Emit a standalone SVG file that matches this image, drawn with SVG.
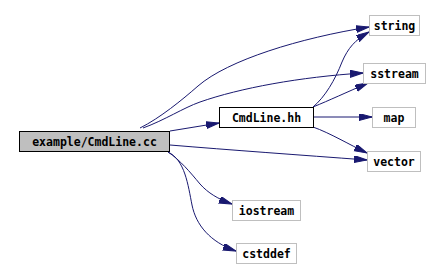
<svg xmlns="http://www.w3.org/2000/svg" width="441" height="268" viewBox="0 0 441 268">
<style>
.n rect{stroke-width:1}
.leaf rect{fill:#fff;stroke:#bfbfbf}
.t{font-family:"DejaVu Sans Mono",monospace;font-weight:bold;font-size:11.5px;text-anchor:middle;fill:#000}
.e path{fill:none;stroke:#191970;stroke-width:1;marker-end:url(#a)}
</style>
<defs>
<marker id="a" markerUnits="userSpaceOnUse" markerWidth="14" markerHeight="8" refX="13" refY="3.5" orient="auto">
<path d="M0,0 L13,3.5 L0,7 z" fill="#191970" stroke="#191970" stroke-width="1"/>
</marker>
</defs>
<rect width="441" height="268" fill="#fff"/>
<g class="e" id="edges">
<path d="M170,131 L219,123"/>
<path d="M140,128 C160,118 182,100 198,86 C228,60 300,38 369,27"/>
<path d="M143,128 C165,120 183,108 200,102 C240,88 300,77 363,73"/>
<path d="M170,145 C230,150 300,155 367,160"/>
<path d="M168,152 C180,160 190,172 200,184 C208,193 218,199 232,204"/>
<path d="M168,152 C185,160 188,185 192,205 C196,225 210,242 236,251"/>
<path d="M313,107 C325,97 335,80 342,62 C348,48 355,40 369,32"/>
<path d="M313,107 C330,100 345,93 368,83"/>
<path d="M313,117 L372,117"/>
<path d="M313,127 C330,133 350,145 367,153"/>
</g>
<g class="n" id="main"><rect x="19.5" y="131.5" width="150" height="20" fill="#bfbfbf" stroke="#000"/><text class="t" x="94.5" y="145.5">example/CmdLine.cc</text></g>
<g class="n" id="cmdline_hh"><rect x="219.5" y="107.5" width="94" height="20" fill="#fff" stroke="#000"/><text class="t" x="266.5" y="121.5">CmdLine.hh</text></g>
<g class="n leaf" id="string"><rect x="369.5" y="15.5" width="50" height="20"/><text class="t" x="394.5" y="29.5">string</text></g>
<g class="n leaf" id="sstream"><rect x="363.5" y="63.5" width="62" height="20"/><text class="t" x="394.5" y="77.5">sstream</text></g>
<g class="n leaf" id="map"><rect x="372.5" y="107.5" width="43" height="20"/><text class="t" x="394" y="121.5">map</text></g>
<g class="n leaf" id="vector"><rect x="367.5" y="151.5" width="53" height="20"/><text class="t" x="394" y="165.5">vector</text></g>
<g class="n leaf" id="iostream"><rect x="232.5" y="200.5" width="68" height="20"/><text class="t" x="266.5" y="214.5">iostream</text></g>
<g class="n leaf" id="cstddef"><rect x="236.5" y="243.5" width="60" height="20"/><text class="t" x="266.5" y="257.5">cstddef</text></g>
</svg>
